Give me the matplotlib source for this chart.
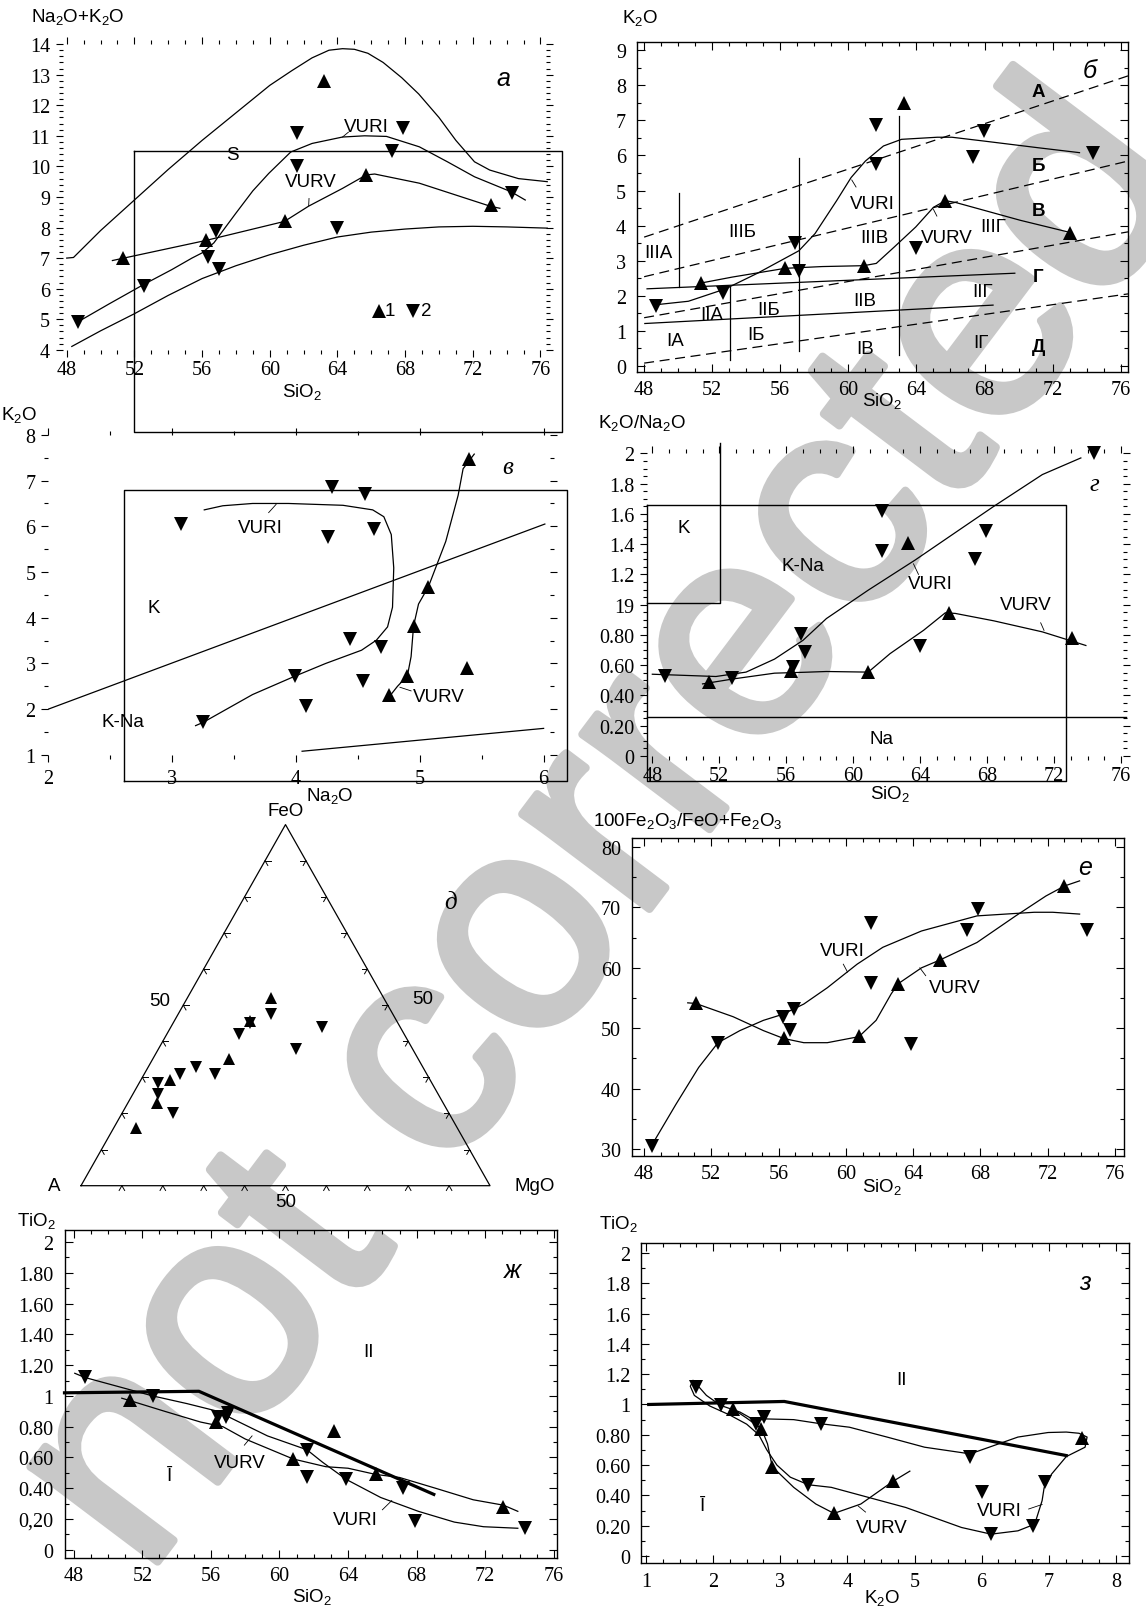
import numpy as np
import matplotlib
matplotlib.use('Agg')
import matplotlib.pyplot as plt
import matplotlib.patheffects as pe
from matplotlib.ticker import MultipleLocator, FixedLocator, FixedFormatter

W, H = 1146, 1608
plt.rcParams['font.family'] = ['Liberation Serif', 'DejaVu Serif']
plt.rcParams['mathtext.fontset'] = 'custom'
plt.rcParams['mathtext.rm'] = 'Liberation Sans'
plt.rcParams['mathtext.it'] = 'Liberation Sans:italic'
plt.rcParams['mathtext.bf'] = 'Liberation Sans:bold'
SANS = ['Liberation Sans', 'DejaVu Sans']

# ---------------- data: panel a (SiO2 vs Na2O+K2O) ----------------
a_up_x = [51.3, 56.25, 60.9, 65.7, 63.2, 73.1]
a_up_y = [7.0, 7.58, 8.2, 9.72, 12.8, 8.74]
a_dn_x = [48.65, 52.55, 56.35, 56.85, 57.0, 61.6, 61.6, 63.95, 67.25, 67.9, 74.3]
a_dn_y = [4.9, 6.1, 7.04, 7.9, 6.65, 11.1, 10.0, 7.98, 10.5, 11.25, 9.12]
a_upper_x = [48.0, 48.4, 50, 52, 54, 56, 58, 60, 61.3, 62.5, 63.5, 64.3, 65.0, 65.8, 66.7, 67.8, 68.8, 70.0, 71.0, 72.1, 73.0, 74.7, 76.4]
a_upper_y = [7.0, 7.02, 7.9, 8.9, 9.9, 10.85, 11.75, 12.65, 13.13, 13.55, 13.8, 13.85, 13.83, 13.7, 13.4, 12.9, 12.37, 11.6, 10.85, 10.15, 9.88, 9.6, 9.5]
a_vuri_x = [48.65, 50.5, 52.56, 54.2, 55.4, 56.0, 56.7, 58.0, 59.0, 59.94, 61.24, 62.5, 64.3, 65.6, 66.9, 68.84, 70.5, 72.1, 74.26, 75.1]
a_vuri_y = [4.91, 5.5, 6.14, 6.62, 7.0, 7.17, 7.5, 8.47, 9.2, 9.77, 10.47, 10.75, 10.96, 11.0, 10.98, 10.64, 10.15, 9.66, 9.17, 8.9]
a_vurv_x = [50.7, 56.25, 60.87, 62.3, 64.3, 65.7, 66.2, 68.84, 73.07, 73.6]
a_vurv_y = [6.92, 7.58, 8.2, 8.7, 9.28, 9.72, 9.75, 9.45, 8.69, 8.63]
a_lower_x = [48.3, 50, 52, 54, 56, 58, 60, 62, 64, 66, 68, 70, 72, 74, 76.4]
a_lower_y = [4.11, 4.62, 5.18, 5.78, 6.33, 6.75, 7.11, 7.42, 7.69, 7.85, 7.95, 8.02, 8.04, 8.02, 7.98]

# ---------------- data: panel б (SiO2 vs K2O) ----------------
b_up_x = [51.34, 56.29, 60.9, 63.29, 65.7, 73.05]
b_up_y = [2.36, 2.80, 2.855, 7.51, 4.71, 3.80]
b_dn_x = [48.68, 52.65, 56.88, 57.09, 61.64, 61.64, 63.96, 67.3, 67.98, 74.38]
b_dn_y = [1.71, 2.07, 3.515, 2.71, 6.88, 5.75, 3.35, 5.97, 6.69, 6.08]
b_vuri_x = [48.68, 50.6, 52.76, 54.66, 57.09, 58.04, 59.31, 60.16, 61.0, 62.06, 63.12, 65.23, 66.08, 67.98, 71.15, 73.58]
b_vuri_y = [1.74, 1.84, 2.19, 2.64, 3.28, 3.77, 4.71, 5.37, 5.84, 6.27, 6.46, 6.52, 6.52, 6.41, 6.22, 6.08]
b_vurv_x = [51.34, 53.18, 56.29, 58.47, 60.9, 61.64, 62.7, 63.96, 65.0, 65.7, 66.29, 70.1, 73.05]
b_vurv_y = [2.36, 2.53, 2.78, 2.83, 2.855, 2.92, 3.39, 3.96, 4.52, 4.71, 4.66, 4.15, 3.80]
b_dash_x0 = [48.0, 48.0, 48.0, 48.0]
b_dash_y0 = [3.67, 2.54, 1.37, 0.075]
b_dash_x1 = [76.43, 76.43, 76.43, 76.43]
b_dash_y1 = [8.27, 5.84, 3.82, 2.05]
b_solid_x0 = [48.17, 48.04]
b_solid_y0 = [2.195, 1.205]
b_solid_x1 = [69.78, 68.5]
b_solid_y1 = [2.64, 1.73]
b_vert_x = [50.07, 53.03, 57.09, 62.97]
b_vert_lo = [2.24, 0.16, 0.42, 0.30]
b_vert_hi = [4.93, 2.24, 5.94, 7.13]
b_reg_text = ['IIIA', 'IIIБ', 'IIIВ', 'IIIГ', 'IIA', 'IIБ', 'IIВ', 'IIГ', 'IA', 'IБ', 'IВ', 'IГ']
b_reg_x = [48.85, 53.75, 61.53, 68.5, 52.0, 55.3, 60.96, 67.87, 49.8, 54.55, 61.0, 67.77]
b_reg_y = [3.23, 3.82, 3.65, 3.96, 1.46, 1.6, 1.86, 2.12, 0.71, 0.89, 0.49, 0.66]
b_ser_text = ['А', 'Б', 'В', 'Г', 'Д']
b_ser_y = [7.82, 5.70, 4.43, 2.54, 0.56]

# ---------------- data: panel в (Na2O vs K2O) ----------------
v_dn_x = [3.07, 4.29, 4.56, 4.26, 4.63, 4.44, 4.69, 3.99, 4.54, 4.08, 3.25]
v_dn_y = [6.05, 6.86, 6.70, 5.76, 5.94, 3.54, 3.36, 2.72, 2.61, 2.07, 1.71]
v_up_x = [5.40, 5.07, 4.95, 4.90, 4.75, 5.38]
v_up_y = [7.47, 4.68, 3.82, 2.73, 2.30, 2.90]
v_vuri_x = [3.19, 3.25, 3.65, 3.99, 4.24, 4.53, 4.65, 4.74, 4.78, 4.79, 4.77, 4.71, 4.62, 4.38, 3.94, 3.65, 3.41, 3.26]
v_vuri_y = [1.64, 1.71, 2.32, 2.72, 3.0, 3.29, 3.51, 3.80, 4.23, 5.09, 5.82, 6.21, 6.36, 6.46, 6.50, 6.50, 6.45, 6.36]
v_vurv_x = [4.75, 4.82, 4.90, 4.93, 4.95, 4.99, 5.07, 5.21, 5.31, 5.35, 5.44]
v_vurv_y = [2.26, 2.5, 2.73, 3.15, 3.82, 4.30, 4.68, 5.67, 6.68, 7.26, 7.58]

# ---------------- data: panel г (SiO2 vs K2O/Na2O) ----------------
g_dn_x = [48.78, 52.73, 56.4, 56.9, 57.1, 61.7, 61.7, 67.3, 67.96, 64.0, 74.4]
g_dn_y = [0.531, 0.514, 0.587, 0.808, 0.687, 1.617, 1.358, 1.30, 1.484, 0.724, 2.0]
g_up_x = [51.4, 56.3, 60.9, 63.3, 65.7, 73.1]
g_up_y = [0.49, 0.56, 0.554, 1.406, 0.946, 0.782]
g_vuri_x = [48.0, 51.8, 53.6, 55.3, 57.0, 58.4, 60.9, 63.7, 66.2, 68.4, 71.3, 73.6]
g_vuri_y = [0.54, 0.525, 0.554, 0.64, 0.764, 0.908, 1.096, 1.295, 1.484, 1.65, 1.86, 1.97]
g_vurv_x = [51.0, 52.9, 55.3, 57.1, 58.4, 60.9, 62.2, 64.2, 65.5, 66.1, 68.4, 71.3, 73.9]
g_vurv_y = [0.476, 0.51, 0.547, 0.553, 0.558, 0.554, 0.676, 0.83, 0.946, 0.942, 0.893, 0.82, 0.73]
g_ytick_vals = [0, 0.2, 0.4, 0.6, 0.8, 1.0, 1.2, 1.4, 1.6, 1.8, 2.0]
g_ytick_text = ['0', '0.20', '0.40', '0.60', '0.80', '19', '1.2', '1.4', '1.6', '1.8', '2']

# ---------------- data: panel д (ternary A-FeO-MgO, %) ----------------
d_up_feo = [52.0, 45.7, 35.0, 29.2, 22.9, 15.9]
d_up_mgo = [20.4, 18.5, 18.6, 7.2, 7.2, 5.6]
d_dn_feo = [47.5, 45.0, 41.9, 43.85, 37.8, 33.0, 30.9, 31.0, 28.4, 25.5, 20.2]
d_dn_mgo = [22.7, 18.9, 17.6, 37.0, 33.7, 11.7, 17.2, 8.7, 4.6, 6.0, 12.35]

# ---------------- data: panel е (SiO2 vs 100Fe2O3/(FeO+Fe2O3)) ----------------
e_up_x = [51.07, 56.3, 60.78, 63.13, 65.6, 73.0]
e_up_y = [54.1, 48.3, 48.7, 57.4, 61.26, 73.55]
e_dn_x = [48.5, 52.4, 56.25, 56.7, 56.9, 61.52, 61.52, 63.9, 67.2, 67.84, 74.35]
e_dn_y = [30.55, 47.5, 51.8, 49.7, 53.2, 67.4, 57.5, 47.4, 66.2, 69.7, 66.2]
e_vuri_x = [48.5, 49.9, 51.25, 52.4, 53.7, 55.1, 56.25, 57.5, 58.9, 60.67, 62.2, 64.5, 67.8, 71.2, 72.3, 73.9]
e_vuri_y = [30.8, 37.4, 43.5, 47.6, 49.6, 51.3, 52.3, 54.0, 56.7, 60.6, 63.4, 66.1, 68.6, 69.2, 69.2, 68.9]
e_vurv_x = [50.6, 51.07, 53.3, 55.1, 56.3, 57.5, 58.9, 60.78, 61.8, 62.7, 63.13, 64.5, 65.6, 67.8, 70.1, 71.9, 73.0, 73.9]
e_vurv_y = [54.2, 54.1, 51.9, 49.6, 48.3, 47.6, 47.6, 48.6, 51.3, 55.7, 57.4, 60.0, 61.3, 64.2, 68.6, 71.9, 73.55, 74.4]

# ---------------- data: panel ж (SiO2 vs TiO2) ----------------
zh_dn_x = [48.64, 52.6, 56.4, 56.9, 57.0, 61.6, 61.6, 63.9, 67.2, 67.9, 74.3]
zh_dn_y = [1.12, 1.0, 0.86, 0.86, 0.89, 0.65, 0.47, 0.457, 0.40, 0.19, 0.14]
zh_up_x = [51.26, 56.3, 60.8, 63.2, 65.6, 73.06]
zh_up_y = [0.976, 0.83, 0.59, 0.775, 0.49, 0.275]
zh_bound_x = [47.46, 55.3, 69.0]
zh_bound_y = [1.02, 1.03, 0.36]
zh_vuri_x = [48.06, 48.64, 52.6, 54.6, 56.4, 57.1, 59.3, 61.6, 62.5, 63.9, 65.9, 68.1, 70.2, 71.9, 73.9]
zh_vuri_y = [1.147, 1.12, 1.0, 0.95, 0.90, 0.86, 0.74, 0.65, 0.57, 0.457, 0.34, 0.25, 0.18, 0.15, 0.14]
zh_vurv_x = [50.8, 51.26, 53.3, 55.4, 56.7, 58.0, 60.8, 62.7, 64.0, 65.6, 67.0, 69.1, 71.3, 73.06, 73.9]
zh_vurv_y = [0.985, 0.97, 0.90, 0.83, 0.80, 0.72, 0.59, 0.54, 0.53, 0.49, 0.47, 0.40, 0.325, 0.29, 0.25]
zh_ytick_vals = [0, 0.2, 0.4, 0.6, 0.8, 1.0, 1.2, 1.4, 1.6, 1.8, 2.0]
zh_ytick_text = ['0', '0,20', '0.40', '0.60', '0.80', '1', '1.20', '1.40', '1.60', '1.80', '2']

# ---------------- data: panel з (K2O vs TiO2) ----------------
z_dn_x = [1.75, 2.11, 2.64, 2.76, 3.60, 3.42, 5.83, 6.01, 6.14, 6.77, 6.95]
z_dn_y = [1.116, 0.994, 0.873, 0.917, 0.873, 0.471, 0.652, 0.42, 0.144, 0.20, 0.486]
z_up_x = [2.29, 2.72, 2.88, 3.80, 4.68, 7.49]
z_up_y = [0.972, 0.84, 0.59, 0.281, 0.493, 0.78]
z_bound_x = [1.04, 3.06, 7.26]
z_bound_y = [1.0, 1.02, 0.663]
z_vuri_x = [5.83, 5.15, 4.59, 4.03, 3.60, 3.2, 2.76, 2.64, 2.4, 2.11, 1.9, 1.76, 1.70, 1.66, 1.72, 1.95, 2.25, 2.5, 2.68, 2.8, 2.95, 3.15, 3.42, 3.76, 4.87, 5.70, 6.14, 6.54, 6.79, 6.90, 6.93, 7.04, 7.26, 7.54, 7.57, 7.45, 7.26, 6.99, 6.54, 5.83]
z_vuri_y = [0.674, 0.718, 0.785, 0.85, 0.873, 0.90, 0.905, 0.89, 0.95, 0.994, 1.06, 1.13, 1.16, 1.12, 1.06, 0.99, 0.93, 0.87, 0.80, 0.70, 0.60, 0.52, 0.47, 0.453, 0.32, 0.188, 0.144, 0.166, 0.21, 0.365, 0.45, 0.54, 0.656, 0.718, 0.785, 0.81, 0.818, 0.815, 0.785, 0.674]
z_vurv_x = [2.29, 2.5, 2.72, 2.81, 2.88, 3.2, 3.53, 3.80, 4.2, 4.68, 4.93]
z_vurv_y = [0.972, 0.91, 0.84, 0.74, 0.59, 0.453, 0.343, 0.281, 0.343, 0.493, 0.56]
z_ytick_vals = [0, 0.2, 0.4, 0.6, 0.8, 1.0, 1.2, 1.4, 1.6, 1.8, 2.0]
z_ytick_text = ['0', '0.20', '0.40', '0.60', '0.80', '1', '1.2', '1.4', '1.6', '1.8', '2']

# ======================================================================
fig = plt.figure(figsize=(W / 100, H / 100), dpi=100)

LW = 0.9
MS = 9.5
TFS = 13.5   # sans text size
KFS = 14.5   # tick label size


def make_ax(l, t, r, b):
    ax = fig.add_axes([l / W, 1 - b / H, (r - l) / W, (b - t) / H])
    ax.set_facecolor('none')
    return ax


def style(ax, xlim, ylim, xmaj, xmin, ymaj, ymin, frame=True, xtext=None, ytext=None,
          xpad=6, ypad=8, direction='in'):
    ax.set_xlim(*xlim)
    ax.set_ylim(*ylim)
    ax.xaxis.set_major_locator(FixedLocator(xmaj))
    ax.yaxis.set_major_locator(FixedLocator(ymaj))
    ax.xaxis.set_minor_locator(MultipleLocator(xmin))
    ax.yaxis.set_minor_locator(MultipleLocator(ymin))
    if xtext is None:
        xtext = [('%g' % v) for v in xmaj]
    if ytext is None:
        ytext = [('%g' % v) for v in ymaj]
    ax.xaxis.set_major_formatter(FixedFormatter(xtext))
    ax.yaxis.set_major_formatter(FixedFormatter(ytext))
    for s in ax.spines.values():
        s.set_visible(frame)
        s.set_linewidth(1.0)
    ax.tick_params(which='both', direction=direction, top=True, right=True, width=0.8,
                   labelsize=KFS)
    ax.tick_params(which='major', length=6 if direction == 'in' else 5)
    ax.tick_params(which='minor', length=3)
    ax.tick_params(axis='x', pad=xpad)
    ax.tick_params(axis='y', pad=ypad)


def pts(ax, up_x, up_y, dn_x, dn_y, ms=MS):
    ax.plot(up_x, up_y, linestyle='none', marker='^', ms=ms, color='black', mew=0, zorder=5, clip_on=False)
    ax.plot(dn_x, dn_y, linestyle='none', marker='v', ms=ms, color='black', mew=0, zorder=5, clip_on=False)


def curve(ax, x, y, lw=LW):
    ax.plot(x, y, color='black', lw=lw, solid_joinstyle='round', clip_on=False, zorder=4)


def atext(ax, x, y, s, size=TFS, **kw):
    kw.setdefault('family', SANS)
    ax.text(x, y, s, fontsize=size, ha='center', va='center', **kw)


def label(ax, text, x, y, lx, ly, size=TFS):
    atext(ax, x, y, text, size)
    ax.plot(lx, ly, color='black', lw=0.6, clip_on=False)


def ftext(px, py, s, size=TFS, ha='center', **kw):
    kw.setdefault('family', SANS)
    fig.text(px / W, 1 - py / H, s, fontsize=size, ha=ha, va='center', **kw)


# watermark (behind everything)
fig.text(0.532, 0.482, 'not corrected', rotation=53, rotation_mode='anchor',
         fontsize=216, color='#c8c8c8', ha='center', va='center', zorder=-10,
         family=SANS,
         path_effects=[pe.withStroke(linewidth=6, foreground='#c8c8c8')])

# ---------------- panel a ----------------
ax = make_ax(62.5, 45.1, 546.4, 350.8)
style(ax, (47.75, 76.35), (4, 14), [48, 52, 56, 60, 64, 68, 72, 76], 1, list(range(4, 15)), 0.2,
      frame=False, direction='out', xpad=2, ypad=4)
curve(ax, a_upper_x, a_upper_y)
curve(ax, a_lower_x, a_lower_y)
curve(ax, a_vuri_x, a_vuri_y)
curve(ax, a_vurv_x, a_vurv_y)
pts(ax, a_up_x, a_up_y, a_dn_x, a_dn_y)
ax.plot([52, 52, 77.3, 77.3, 52], [10.5, 1.32, 1.32, 10.5, 10.5], color='black', lw=1.0, clip_on=False)
atext(ax, 57.8, 10.4, 'S')
label(ax, 'VURI', 65.7, 11.32, [64.3, 64.65], [10.96, 11.12])
label(ax, 'VURV', 62.45, 9.5, [62.3, 62.32], [8.72, 8.95])
atext(ax, 73.8, 12.9, 'а', size=18, style='italic')
ax.plot([66.45], [5.27], marker='^', ms=MS, color='black', mew=0, linestyle='none')
atext(ax, 67.1, 5.27, '1')
ax.plot([68.47], [5.27], marker='v', ms=MS, color='black', mew=0, linestyle='none')
atext(ax, 69.27, 5.27, '2')
ftext(31, 17, r'Na$_2$O+K$_2$O', ha='left')
ftext(302, 392, r'SiO$_2$')

# ---------------- panel б ----------------
ax = make_ax(637, 42.9, 1128, 372.7)
style(ax, (47.58, 76.43), (-0.17, 9.24), [48, 52, 56, 60, 64, 68, 72, 76], 1, list(range(0, 10)), 0.5)
for x0, y0, x1, y1 in zip(b_dash_x0, b_dash_y0, b_dash_x1, b_dash_y1):
    ax.plot([x0, x1], [y0, y1], color='black', lw=LW, dashes=[8, 4.5])
for x0, y0, x1, y1 in zip(b_solid_x0, b_solid_y0, b_solid_x1, b_solid_y1):
    ax.plot([x0, x1], [y0, y1], color='black', lw=LW)
for x, lo, hi in zip(b_vert_x, b_vert_lo, b_vert_hi):
    ax.plot([x, x], [lo, hi], color='black', lw=LW)
curve(ax, b_vuri_x, b_vuri_y)
curve(ax, b_vurv_x, b_vurv_y)
pts(ax, b_up_x, b_up_y, b_dn_x, b_dn_y)
for t, x, y in zip(b_reg_text, b_reg_x, b_reg_y):
    atext(ax, x, y, t)
for t, y in zip(b_ser_text, b_ser_y):
    atext(ax, 71.15, y, t, fontweight='bold')
label(ax, 'VURI', 61.4, 4.62, [60.2, 60.45], [5.3, 5.1])
label(ax, 'VURV', 65.76, 3.66, [65.0, 65.2], [4.46, 4.27])
atext(ax, 74.2, 8.43, 'б', size=18, style='italic')
ftext(640, 18, r'K$_2$O')
ftext(882, 401, r'SiO$_2$')

# ---------------- panel в ----------------
ax = make_ax(48.2, 435.9, 549.8, 755.9)
style(ax, (2, 6.05), (1, 8), [2, 3, 4, 5, 6], 0.5, list(range(1, 9)), 0.5, frame=False,
      direction='out', xpad=5, ypad=4)
ax.plot([2.61, 6.19, 6.19, 2.61, 2.61], [0.44, 0.44, 6.80, 6.80, 0.44], color='black', lw=1.0, clip_on=False)
ax.plot([2.0, 6.01], [2.0, 6.05], color='black', lw=LW)
ax.plot([4.05, 6.0], [1.08, 1.58], color='black', lw=LW)
curve(ax, v_vuri_x, v_vuri_y)
curve(ax, v_vurv_x, v_vurv_y)
pts(ax, v_up_x, v_up_y, v_dn_x, v_dn_y)
label(ax, 'VURI', 3.71, 5.97, [3.78, 3.84], [6.3, 6.48])
label(ax, 'VURV', 5.15, 2.28, [4.84, 4.93], [2.48, 2.4])
atext(ax, 2.85, 4.23, 'K')
atext(ax, 2.6, 1.72, 'K-Na')
atext(ax, 5.71, 7.29, 'в', size=18, style='italic', family='Liberation Serif')
ftext(19.5, 415, r'K$_2$O')
ftext(330, 796, r'Na$_2$O')

# ---------------- panel г ----------------
ax = make_ax(646.8, 454.4, 1122.7, 756.9)
style(ax, (47.67, 76.1), (0, 2.0), [48, 52, 56, 60, 64, 68, 72, 76], 1, g_ytick_vals, 0.05,
      frame=False, ytext=g_ytick_text, direction='out', xpad=2, ypad=4)
ax.plot([47.67, 72.7, 72.7, 47.67, 47.67], [1.661, 1.661, -0.165, -0.165, 1.661], color='black', lw=1.0, clip_on=False)
ax.plot([47.67, 52.07, 52.07], [1.008, 1.008, 2.07], color='black', lw=1.0, clip_on=False)
ax.plot([47.67, 76.3], [0.259, 0.259], color='black', lw=1.0, clip_on=False)
curve(ax, g_vuri_x, g_vuri_y)
curve(ax, g_vurv_x, g_vurv_y)
pts(ax, g_up_x, g_up_y, g_dn_x, g_dn_y)
label(ax, 'VURI', 64.6, 1.14, [63.6, 63.9], [1.27, 1.2])
label(ax, 'VURV', 70.3, 1.0, [71.2, 71.4], [0.88, 0.83])
atext(ax, 49.9, 1.51, 'K')
atext(ax, 57.0, 1.26, 'K-Na')
atext(ax, 61.7, 0.117, 'Na')
atext(ax, 74.4, 1.8, 'г', size=18, style='italic', family='Liberation Serif')
ftext(598, 423, r'K$_2$O/Na$_2$O', ha='left')
ftext(890, 794, r'SiO$_2$')

# ---------------- panel д (ternary) ----------------
ax = make_ax(81, 825.6, 490, 1186.7)
ax.set_xlim(0, 1)
ax.set_ylim(0, 1)
ax.axis('off')
ax.plot([0, 1, 0.5, 0], [0, 0, 1, 0], color='black', lw=LW, clip_on=False)
PXX, PXY = 409.0, 361.1
L = 5.5
for i in range(1, 10):
    t = i / 10
    for (bx, by, dirs) in [(0.5 * t, t, [(1, 0), (0.5, -0.866)]),
                           (1 - 0.5 * t, t, [(-1, 0), (-0.5, -0.866)]),
                           (t, 0, [(-0.5, -0.866), (0.5, -0.866)])]:
        for dx, dy in dirs:
            ax.plot([bx, bx + L * dx / PXX], [by, by + L * dy / PXY], color='black', lw=0.7, clip_on=False)
d_up_x = [m / 100 + 0.5 * f / 100 for f, m in zip(d_up_feo, d_up_mgo)]
d_up_y = [f / 100 for f in d_up_feo]
d_dn_x = [m / 100 + 0.5 * f / 100 for f, m in zip(d_dn_feo, d_dn_mgo)]
d_dn_y = [f / 100 for f in d_dn_feo]
pts(ax, d_up_x, d_up_y, d_dn_x, d_dn_y, ms=8.5)
ftext(286, 812, 'FeO')
ftext(54, 1187, 'A')
ftext(535, 1187, 'MgO')
ftext(160, 1002, '50')
ftext(423, 1000, '50')
ftext(286, 1203, '50')
ftext(451, 903, 'д', size=18, style='italic', family='Liberation Serif')

# ---------------- panel е ----------------
ax = make_ax(631.9, 839, 1124, 1156.6)
style(ax, (47.28, 76.54), (28.9, 81.5), [48, 52, 56, 60, 64, 68, 72, 76], 1, [30, 40, 50, 60, 70, 80], 5)
curve(ax, e_vuri_x, e_vuri_y)
curve(ax, e_vurv_x, e_vurv_y)
pts(ax, e_up_x, e_up_y, e_dn_x, e_dn_y)
label(ax, 'VURI', 59.8, 62.8, [59.85, 60.1], [60.6, 59.3])
label(ax, 'VURV', 66.5, 56.7, [64.4, 64.75], [60.0, 58.7])
atext(ax, 74.2, 76.7, 'е', size=18, style='italic')
ftext(593, 821, r'100Fe$_2$O$_3$/FeO+Fe$_2$O$_3$', ha='left')
ftext(882, 1187, r'SiO$_2$')

# ---------------- panel ж ----------------
ax = make_ax(64.5, 1231.3, 556.9, 1558.5)
style(ax, (47.46, 76.18), (-0.05, 2.076), [48, 52, 56, 60, 64, 68, 72, 76], 1, zh_ytick_vals, 0.1,
      ytext=zh_ytick_text)
curve(ax, zh_bound_x, zh_bound_y, lw=2.3)
curve(ax, zh_vuri_x, zh_vuri_y)
curve(ax, zh_vurv_x, zh_vurv_y)
pts(ax, zh_up_x, zh_up_y, zh_dn_x, zh_dn_y)
label(ax, 'VURV', 57.7, 0.57, [57.95, 58.4], [0.68, 0.74])
label(ax, 'VURI', 64.4, 0.2, [66.0, 66.55], [0.26, 0.32])
atext(ax, 53.58, 0.48, 'Ī')
atext(ax, 65.2, 1.29, 'II')
atext(ax, 73.6, 1.82, 'ж', size=18, style='italic')
ftext(36, 1221, r'TiO$_2$')
ftext(312, 1597, r'SiO$_2$')

# ---------------- panel з ----------------
ax = make_ax(641.3, 1244, 1128.7, 1564.4)
style(ax, (0.93, 8.19), (-0.049, 2.066), [1, 2, 3, 4, 5, 6, 7, 8], 0.25, z_ytick_vals, 0.1,
      ytext=z_ytick_text)
curve(ax, z_bound_x, z_bound_y, lw=2.3)
curve(ax, z_vuri_x, z_vuri_y)
curve(ax, z_vurv_x, z_vurv_y)
pts(ax, z_up_x, z_up_y, z_dn_x, z_dn_y)
label(ax, 'VURV', 4.51, 0.19, [4.16, 4.27], [0.33, 0.29])
label(ax, 'VURI', 6.26, 0.3, [6.7, 6.9], [0.31, 0.34])
atext(ax, 1.84, 0.33, 'Ī')
atext(ax, 4.8, 1.165, 'II')
atext(ax, 7.54, 1.81, 'з', size=18, style='italic')
ftext(618, 1224, r'TiO$_2$')
ftext(882, 1598, r'K$_2$O')

fig.savefig('out.png', dpi=100)
